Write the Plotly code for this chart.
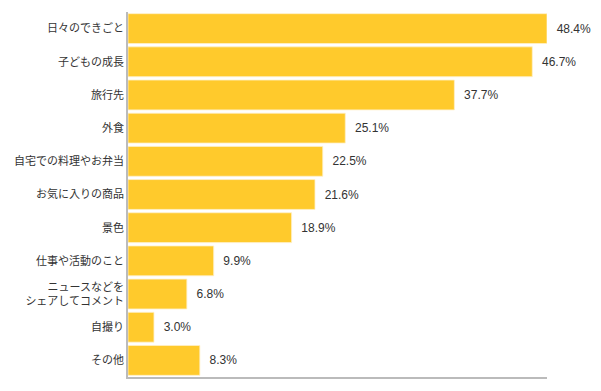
import plotly.graph_objects as go

categories = ["日々のできごと", "子どもの成長", "旅行先", "外食", "自宅での料理やお弁当",
              "お気に入りの商品", "景色", "仕事や活動のこと", "ニュースなどを<br>シェアしてコメント",
              "自撮り", "その他"]
values = [48.4, 46.7, 37.7, 25.1, 22.5, 21.6, 18.9, 9.9, 6.8, 3.0, 8.3]
value_labels = ["\u00a0\u00a0" + f"{v:.1f}%" for v in values]

font_family = "Noto Sans CJK JP, Noto Sans, sans-serif"

fig = go.Figure(go.Bar(
    x=values,
    y=categories,
    orientation="h",
    text=value_labels,
    textposition="outside",
    cliponaxis=False,
    textfont=dict(size=12, color="#333333", family="Liberation Sans, Arial, sans-serif"),
    marker=dict(color="#FFCA2C", line=dict(color="rgba(255,240,200,0.8)", width=1)),
))

# page body has an 8px default margin, so the figure is sized to fit the window
fig.update_layout(
    width=593, height=383,
    margin=dict(l=120, r=54, t=4, b=14, autoexpand=False),
    paper_bgcolor="white", plot_bgcolor="white",
    bargap=0.1,
    showlegend=False,
    font=dict(family=font_family, size=11, color="#333333"),
    xaxis=dict(range=[0, 48.4], showgrid=False, zeroline=False, showticklabels=False,
               showline=True, linecolor="#BBBBBB", linewidth=1.5, ticks="", automargin=False),
    yaxis=dict(autorange="reversed", showgrid=False, zeroline=False,
               showline=True, linecolor="#BBBBBB", linewidth=1.5, ticks="", automargin=False,
               tickfont=dict(size=11, color="#333333")),
)

fig.write_html("out.html")
